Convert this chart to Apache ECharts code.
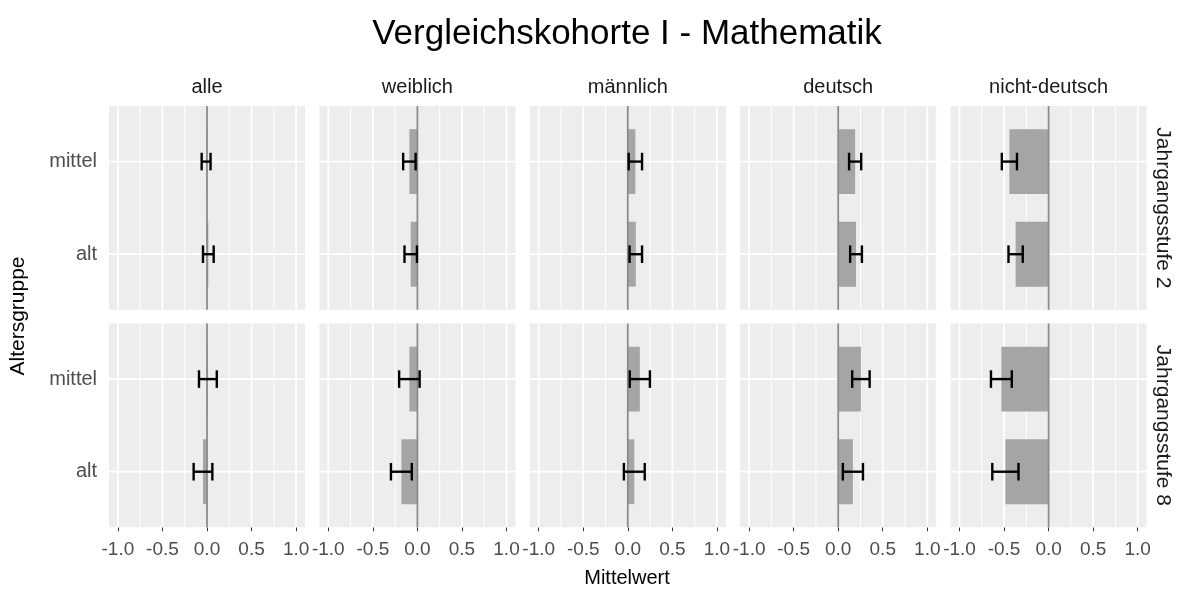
<!DOCTYPE html>
<html>
<head>
<meta charset="utf-8">
<script src="https://cdn.jsdelivr.net/npm/echarts@6/dist/echarts.min.js"></script>
<style>
  html, body { margin: 0; padding: 0; background: #fff; }
  #chart { width: 1184px; height: 589px; }
</style>
</head>
<body>
<div id="chart"></div>
<script>
// Facets: columns = Teilgruppe, rows = Jahrgangsstufe
const teilgruppen = ['alle', 'weiblich', 'männlich', 'deutsch', 'nicht-deutsch'];
const jahrgangsstufen = ['Jahrgangsstufe 2', 'Jahrgangsstufe 8'];
// Altersgruppen from bottom to top of each panel (positions 1, 2)
const altersgruppen = ['alt', 'mittel'];

// Mittelwerte and half-widths of the error bars, per Teilgruppe
const js2_mittel_mw = [-0.01, -0.09, 0.085, 0.19, -0.44];
const js2_mittel_ci = [0.05, 0.07, 0.075, 0.068, 0.085];
const js2_alt_mw = [0.015, -0.075, 0.09, 0.20, -0.37];
const js2_alt_ci = [0.06, 0.07, 0.07, 0.066, 0.08];
const js8_mittel_mw = [0.01, -0.09, 0.135, 0.255, -0.53];
const js8_mittel_ci = [0.10, 0.115, 0.113, 0.098, 0.117];
const js8_alt_mw = [-0.045, -0.18, 0.073, 0.165, -0.485];
const js8_alt_ci = [0.105, 0.117, 0.117, 0.113, 0.147];

// Axis ticks
const xTickLabels = [-1.0, -0.5, 0.0, 0.5, 1.0];
const xMinorLines = [-0.75, -0.25, 0.25, 0.75];
const yPositions = [1, 2];
const zeroLine = [0];

const rows = [
  { mittel: js2_mittel_mw, mittelCi: js2_mittel_ci, alt: js2_alt_mw, altCi: js2_alt_ci },
  { mittel: js8_mittel_mw, mittelCi: js8_mittel_ci, alt: js8_alt_mw, altCi: js8_alt_ci }
];

// Panel layout
const panelLeft0 = 109, panelStep = 210.4, panelW = 196;
const rowTop = [106, 323.5], panelH = 203.8;
const FONT = 'Liberation Sans, Arial, sans-serif';

const grids = [], xAxes = [], yAxes = [], series = [];

for (let r = 0; r < 2; r++) {
  for (let c = 0; c < 5; c++) {
    const g = r * 5 + c;
    grids.push({
      left: panelLeft0 + c * panelStep, top: rowTop[r], width: panelW, height: panelH,
      show: true, backgroundColor: '#ededed', borderWidth: 0, containLabel: false
    });
    xAxes.push({
      type: 'value', gridIndex: g, min: -1.1, max: 1.1,
      axisLine: { show: false },
      splitLine: { show: false },
      axisTick: { show: r === 1, length: 4, customValues: xTickLabels, lineStyle: { color: '#333', width: 1 } },
      axisLabel: {
        show: r === 1, customValues: xTickLabels, margin: 13,
        formatter: v => v.toFixed(1), color: '#4d4d4d', fontSize: 19, fontFamily: FONT
      }
    });
    yAxes.push({
      type: 'value', gridIndex: g, min: 0.4, max: 2.6,
      axisLine: { show: false },
      splitLine: { show: false },
      axisTick: { show: c === 0, length: 4, customValues: yPositions, lineStyle: { color: '#333', width: 1 } },
      axisLabel: {
        show: c === 0, customValues: yPositions, margin: 12,
        formatter: v => altersgruppen[Math.round(v) - 1] || '', color: '#4d4d4d', fontSize: 20, fontFamily: FONT
      }
    });

    // Background raster: kind 0 = major vertical, 1 = minor vertical, 2 = horizontal
    const rasterData = []
      .concat(xTickLabels.map(v => [v, 0]))
      .concat(xMinorLines.map(v => [v, 1]))
      .concat(yPositions.map(v => [v, 2]));
    series.push({
      type: 'custom', xAxisIndex: g, yAxisIndex: g, silent: true, z: 1, animation: false,
      data: rasterData,
      renderItem: (params, api) => {
        const v = api.value(0), kind = api.value(1);
        const cs = params.coordSys;
        if (kind === 2) {
          const y = api.coord([0, v])[1];
          return { type: 'line', shape: { x1: cs.x, y1: y, x2: cs.x + cs.width, y2: y },
                   style: { stroke: '#ffffff', lineWidth: 1.8 } };
        }
        const x = api.coord([v, 1])[0];
        return { type: 'line', shape: { x1: x, y1: cs.y, x2: x, y2: cs.y + cs.height },
                 style: { stroke: '#ffffff', lineWidth: kind === 0 ? 1.8 : 1 } };
      }
    });

    const d = rows[r];
    const barData = [
      [d.alt[c], 1, d.altCi[c]],
      [d.mittel[c], 2, d.mittelCi[c]]
    ];

    // Bars
    series.push({
      type: 'custom', xAxisIndex: g, yAxisIndex: g, z: 2, animation: false,
      data: barData,
      renderItem: (params, api) => {
        const mw = api.value(0), y = api.value(1);
        const p0 = api.coord([0, y]), p1 = api.coord([mw, y]);
        const h = api.size([0, 0.7])[1];
        return { type: 'rect',
                 shape: { x: Math.min(p0[0], p1[0]), y: p0[1] - h / 2, width: Math.abs(p1[0] - p0[0]), height: h },
                 style: { fill: '#a5a5a5' } };
      }
    });

    // Zero reference line
    series.push({
      type: 'custom', xAxisIndex: g, yAxisIndex: g, z: 3, silent: true, animation: false,
      data: zeroLine.map(v => [v]),
      renderItem: (params, api) => {
        const cs = params.coordSys;
        const x = api.coord([api.value(0), 1])[0];
        return { type: 'line', shape: { x1: x, y1: cs.y, x2: x, y2: cs.y + cs.height },
                 style: { stroke: '#8a8a8a', lineWidth: 1.8 } };
      }
    });

    // Error bars
    series.push({
      type: 'custom', xAxisIndex: g, yAxisIndex: g, z: 4, animation: false,
      data: barData,
      renderItem: (params, api) => {
        const mw = api.value(0), y = api.value(1), ci = api.value(2);
        const lo = api.coord([mw - ci, y]), hi = api.coord([mw + ci, y]);
        const cap = api.size([0, 0.19])[1] / 2;
        const st = { stroke: '#000000', lineWidth: 2.4 };
        return { type: 'group', children: [
          { type: 'line', shape: { x1: lo[0], y1: lo[1], x2: hi[0], y2: hi[1] }, style: st },
          { type: 'line', shape: { x1: lo[0], y1: lo[1] - cap, x2: lo[0], y2: lo[1] + cap }, style: st },
          { type: 'line', shape: { x1: hi[0], y1: hi[1] - cap, x2: hi[0], y2: hi[1] + cap }, style: st }
        ] };
      }
    });
  }
}

// Facet strip labels, titles
const graphics = [];
teilgruppen.forEach((name, c) => {
  graphics.push({
    type: 'text', x: panelLeft0 + c * panelStep + panelW / 2, y: 87,
    style: { text: name, fill: '#1a1a1a', font: '20px ' + FONT, textAlign: 'center', textVerticalAlign: 'middle' }
  });
});
jahrgangsstufen.forEach((name, r) => {
  graphics.push({
    type: 'text', x: 1163, y: rowTop[r] + panelH / 2, rotation: -Math.PI / 2,
    style: { text: name, fill: '#1a1a1a', font: '21px ' + FONT, textAlign: 'center', textVerticalAlign: 'middle' }
  });
});
graphics.push({
  type: 'text', x: 627, y: 34,
  style: { text: 'Vergleichskohorte I - Mathematik', fill: '#000', font: '35px ' + FONT, textAlign: 'center', textVerticalAlign: 'middle' }
});
graphics.push({
  type: 'text', x: 627, y: 578,
  style: { text: 'Mittelwert', fill: '#000', font: '20px ' + FONT, textAlign: 'center', textVerticalAlign: 'middle' }
});
graphics.push({
  type: 'text', x: 18, y: 316, rotation: Math.PI / 2,
  style: { text: 'Altersgruppe', fill: '#000', font: '21px ' + FONT, textAlign: 'center', textVerticalAlign: 'middle' }
});

const chart = echarts.init(document.getElementById('chart'), null, { renderer: 'canvas' });
chart.setOption({
  animation: false,
  backgroundColor: '#ffffff',
  grid: grids,
  xAxis: xAxes,
  yAxis: yAxes,
  series: series,
  graphic: graphics
});
</script>
</body>
</html>
